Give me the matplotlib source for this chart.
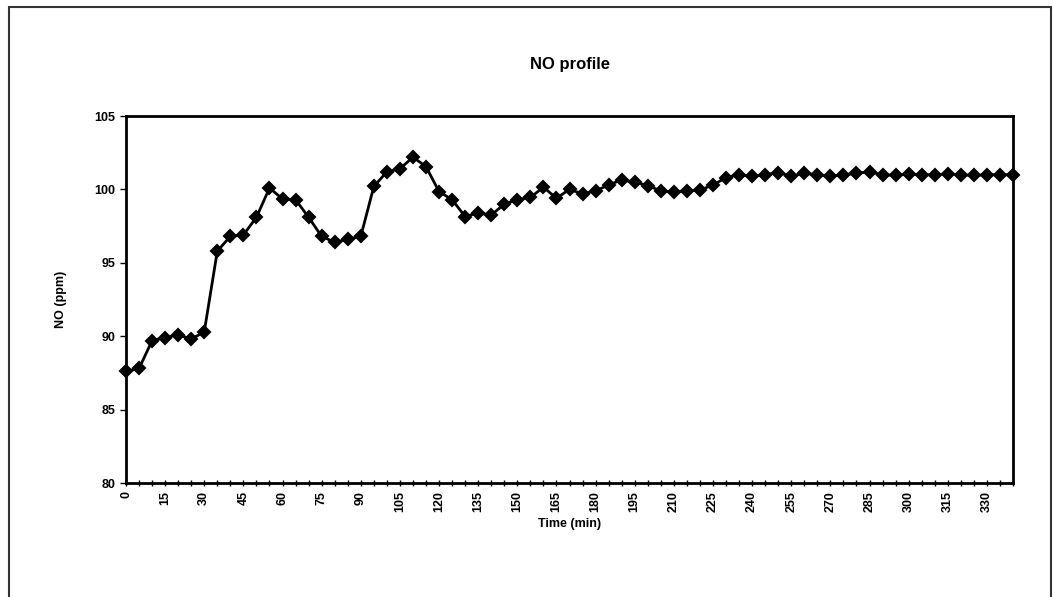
import matplotlib
matplotlib.use("Agg")
import matplotlib.pyplot as plt
from matplotlib.patches import Rectangle
from matplotlib.ticker import FixedLocator

plt.rcParams['font.family'] = ['Liberation Sans', 'DejaVu Sans']

# Time categories (min), every 5 minutes
time_min = list(range(0, 345, 5))
# NO concentration (ppm)
no_ppm = [87.6, 87.8, 89.7, 89.9, 90.1, 89.8, 90.3, 95.8, 96.8, 96.9,
          98.1, 100.1, 99.35, 99.3, 98.1, 96.8, 96.4, 96.6, 96.8, 100.2,
          101.2, 101.4, 102.2, 101.55, 99.85, 99.3, 98.15, 98.4, 98.25, 99.0,
          99.3, 99.45, 100.15, 99.4, 100.0, 99.7, 99.9, 100.3, 100.65, 100.5,
          100.25, 99.9, 99.8, 99.9, 99.95, 100.3, 100.8, 101.0, 100.9, 101.0,
          101.15, 100.9, 101.1, 101.0, 100.9, 101.0, 101.1, 101.2, 101.0, 100.95,
          101.05, 101.0, 101.0, 101.05, 101.0, 100.95, 101.0, 101.0, 101.0]
y_ticks = [80, 85, 90, 95, 100, 105]
title = "NO profile"
x_label = "Time (min)"
y_label = "NO (ppm)"

fig = plt.figure(figsize=(10.53, 5.97), dpi=100)
ax = fig.add_axes([126/1053, 1-483/597, (1013-126)/1053, (483-116)/597])

idx = list(range(len(time_min)))
ax.plot(idx, no_ppm, color='black', linewidth=2.0, marker='D', markersize=6.5,
        markerfacecolor='black', markeredgecolor='black', markeredgewidth=1.5,
        clip_on=False, zorder=5)

ax.set_xlim(0, len(time_min) - 1)
ax.set_ylim(80, 105)

major = idx[::3]
ax.xaxis.set_major_locator(FixedLocator(major))
ax.set_xticklabels([str(time_min[i]) for i in major], rotation=90,
                   fontsize=9, fontweight='bold')
ax.xaxis.set_minor_locator(FixedLocator(idx))
ax.tick_params(axis='x', which='both', direction='inout', length=5, width=1)
ax.set_yticks(y_ticks)
ax.set_yticklabels([str(v) for v in y_ticks], fontsize=9, fontweight='bold')
ax.tick_params(axis='y', direction='out', length=4, width=1)

for s in ax.spines.values():
    s.set_linewidth(2)
    s.set_color('black')

ax.set_title(title, fontsize=12, fontweight='bold', pad=34)
ax.set_xlabel(x_label, fontsize=9, fontweight='bold', labelpad=4)
ax.set_ylabel(y_label, fontsize=9, fontweight='bold', labelpad=20)

fig.patches.append(Rectangle((9/1053, -0.02), (1051-9)/1053, 1.02 - 7/597,
                             transform=fig.transFigure, fill=False,
                             edgecolor='#333333', linewidth=1.5))

fig.savefig("out.png", dpi=100)
